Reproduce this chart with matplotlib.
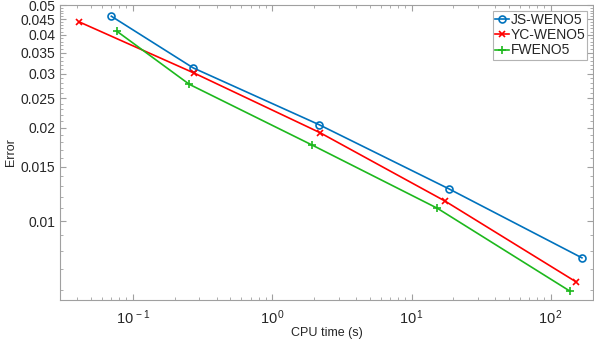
import matplotlib.pyplot as plt
from matplotlib.ticker import FixedLocator, FixedFormatter, FuncFormatter
import numpy as np

plt.rcParams['font.family'] = ['Liberation Sans', 'DejaVu Sans']
plt.rcParams['mathtext.fontset'] = 'custom'
plt.rcParams['mathtext.rm'] = 'Liberation Sans'
plt.rcParams['mathtext.it'] = 'Liberation Sans'

# CPU time (s) and error for each scheme
js_time = [0.0701, 0.271, 2.17, 18.6, 167]
js_err = [0.0460, 0.0313, 0.0205, 0.0127, 0.0076]

yc_time = [0.0412, 0.276, 2.21, 17.4, 152]
yc_err = [0.0441, 0.0301, 0.0193, 0.0116, 0.00635]

f_time = [0.0764, 0.254, 1.94, 15.3, 137]
f_err = [0.0412, 0.0277, 0.0176, 0.0110, 0.00593]

y_major = [0.01, 0.015, 0.02, 0.025, 0.03, 0.035, 0.04, 0.045, 0.05]
y_labels = ['0.01', '0.015', '0.02', '0.025', '0.03', '0.035', '0.04', '0.045', '0.05']

fig = plt.figure(figsize=(5.94, 3.45), dpi=100)
ax = fig.add_axes([0.101, 0.1304, 0.897, 0.855])

ax.plot(js_time, js_err, '-o', color='#0072BD', lw=1.2, ms=5, mfc='none', mew=1.2, label='JS-WENO5')
ax.plot(yc_time, yc_err, '-x', color='#FF0000', lw=1.2, ms=4.5, mew=1.2, label='YC-WENO5')
ax.plot(f_time, f_err, '-+', color='#1DB81D', lw=1.2, ms=6, mew=1.2, label='FWENO5')

ax.set_xscale('log')
ax.set_yscale('log')
ax.set_xlim(0.03, 200)
ax.set_ylim(0.00555, 0.05)

ax.yaxis.set_major_locator(FixedLocator(y_major))
ax.yaxis.set_major_formatter(FixedFormatter(y_labels))
minor = [v / 1000 for v in range(6, 50) if v % 5 != 0]
ax.yaxis.set_minor_locator(FixedLocator(minor))
ax.yaxis.set_minor_formatter(FixedFormatter([]))

ax.xaxis.set_major_formatter(FuncFormatter(
    lambda v, p: r'$10^{\,%d}$' % int(round(np.log10(v)))))

ax.tick_params(which='both', direction='in', top=True, right=True,
               color='#a0a0a0', labelcolor='#262626', labelsize=10)
ax.tick_params(axis='x', which='major', labelsize=10.5, pad=6)
ax.tick_params(which='major', length=4)
ax.tick_params(which='minor', length=2)
for s in ax.spines.values():
    s.set_color('#a0a0a0')
    s.set_linewidth(0.8)

ax.set_xlabel('CPU time (s)', fontsize=9, color='#262626', labelpad=0)
ax.set_ylabel('Error', fontsize=9, color='#262626', labelpad=2)

leg = ax.legend(loc='upper right', fontsize=10, frameon=True, fancybox=False,
                handlelength=1.0, handletextpad=0.1, borderpad=0.15,
                labelspacing=0.1, borderaxespad=0.4)
leg.get_frame().set_edgecolor('#a0a0a0')
leg.get_frame().set_linewidth(0.8)
for t in leg.get_texts():
    t.set_color('#262626')

fig.savefig('out.png', dpi=100)
